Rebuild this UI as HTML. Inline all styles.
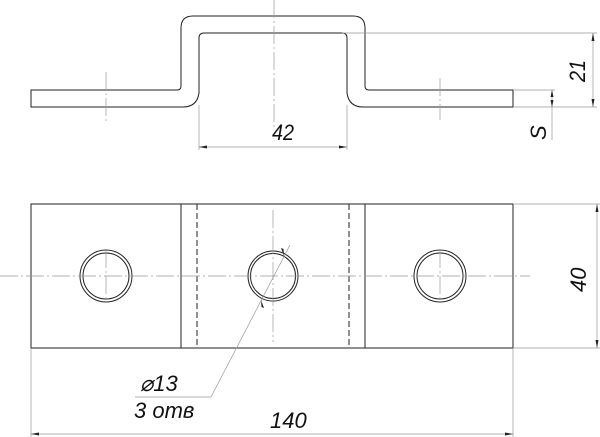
<!DOCTYPE html>
<html><head><meta charset="utf-8"><style>
html,body{margin:0;padding:0;background:#fff;}
svg{display:block;}
text{font-family:"Liberation Sans",sans-serif;font-style:italic;font-size:22px;fill:#111;}
</style></head><body>
<svg width="600" height="437" viewBox="0 0 600 437" xmlns="http://www.w3.org/2000/svg">
<g fill="none" stroke="#222" stroke-width="1">
<path d="M31,90 H177 Q181,90 181,86 V28 Q181,16 193,16 H353 Q365,16 365,28 V86 Q365,90 369,90 H513 V107 H363 Q349,107 347,93 V38 Q347,33 342,33 H204 Q199,33 199,38 V93 Q197,107 183,107 H31 Z"/>
</g>
<g stroke="#999" stroke-width="0.7" fill="none">
<line x1="274" y1="0" x2="274" y2="130" stroke-dasharray="18,3,2,3"/>
<line x1="106" y1="72" x2="106" y2="122" stroke-dasharray="18,3,2,3"/>
<line x1="440" y1="78" x2="440" y2="120" stroke-dasharray="18,3,2,3"/>
<line x1="199" y1="105" x2="199" y2="150"/>
<line x1="347" y1="105" x2="347" y2="150"/>
<line x1="199" y1="147" x2="347" y2="147"/>
<line x1="342" y1="33" x2="597" y2="33"/>
<line x1="513" y1="107" x2="597" y2="107"/>
<line x1="593" y1="33" x2="593" y2="107"/>
<line x1="513" y1="90" x2="555" y2="90"/>
<line x1="552" y1="90" x2="552" y2="140"/>
</g>
<g fill="#222">
<path d="M199,147 l8,-1.5 v3z M347,147 l-8,-1.5 v3z"/>
<path d="M593,33 l-1.5,8 h3z M593,107 l-1.5,-8 h3z"/>
<path d="M552,90 l-1.5,7 h3z M552,107 l-1.5,-7 h3z"/>
</g>
<text x="272" y="140" transform="translate(272,0) scale(0.9,1) translate(-272,0)">42</text>
<text transform="translate(585,82) rotate(-90) scale(0.9,1)">21</text>
<text transform="translate(546,140) rotate(-90)">S</text>

<g fill="none" stroke="#222" stroke-width="1">
<rect x="31" y="204" width="482" height="144"/>
<line x1="181" y1="204" x2="181" y2="348"/>
<line x1="365" y1="204" x2="365" y2="348"/>
<line x1="197" y1="204" x2="197" y2="348" stroke-dasharray="6,3"/>
<line x1="349" y1="204" x2="349" y2="348" stroke-dasharray="6,3"/>
<circle cx="106" cy="276" r="26"/>
<circle cx="106" cy="276" r="23"/>
<circle cx="273" cy="276" r="25"/>
<circle cx="273" cy="276" r="22.5"/>
<circle cx="440" cy="276" r="26"/>
<circle cx="440" cy="276" r="23"/>
</g>
<g stroke="#999" stroke-width="0.7" fill="none">
<line x1="0" y1="276" x2="530" y2="276" stroke-dasharray="18,3,2,3"/>
<line x1="106" y1="250" x2="106" y2="303" stroke-dasharray="18,3,2,3"/>
<line x1="273" y1="210" x2="273" y2="342" stroke-dasharray="18,3,2,3"/>
<line x1="440" y1="250" x2="440" y2="303" stroke-dasharray="18,3,2,3"/>
<polyline points="290,245 211,397 135,397"/>
<line x1="31" y1="348" x2="31" y2="437"/>
<line x1="513" y1="348" x2="513" y2="437"/>
<line x1="31" y1="434" x2="513" y2="434"/>
<line x1="513" y1="204" x2="600" y2="204"/>
<line x1="513" y1="348" x2="600" y2="348"/>
<line x1="597" y1="204" x2="597" y2="348"/>
</g>
<g fill="#222">
<path d="M31,434 l8,-1.5 v3z M513,434 l-8,-1.5 v3z"/>
<path d="M597,204 l-1.5,8 h3z M597,348 l-1.5,-8 h3z"/>
<path d="M284,256 l-0.5,-7 l-2.5,-1z M261,300 l0.5,7 l2.5,1z"/>
</g>
<text x="140" y="391">⌀13</text>
<text x="134" y="418">3 отв</text>
<text x="270" y="428">140</text>
<text transform="translate(586,292) rotate(-90)">40</text>
</svg>
</body></html>
